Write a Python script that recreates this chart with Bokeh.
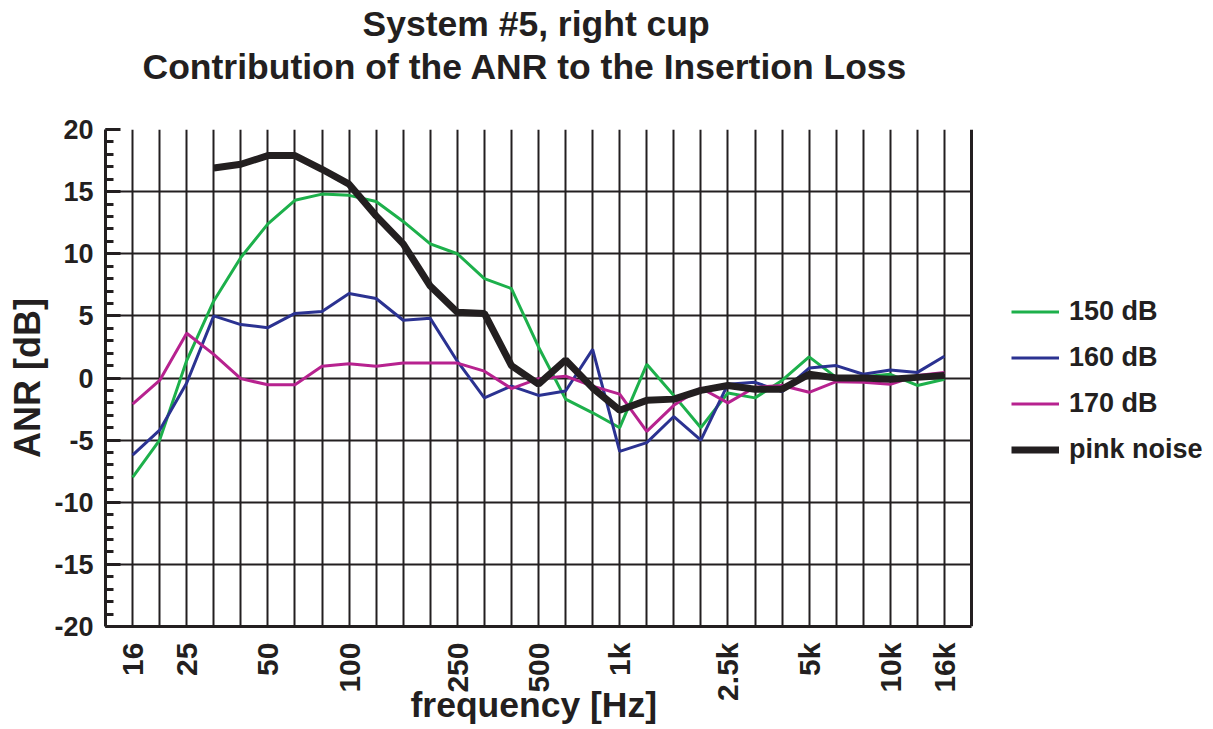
import math
from bokeh.plotting import figure
from bokeh.models import FixedTicker, Legend, LegendItem, Range1d, Grid, Title
from bokeh.embed import file_html
from bokeh.resources import INLINE

bands = ["16", "20", "25", "31.5", "40", "50", "63", "80", "100", "125", "160",
         "200", "250", "315", "400", "500", "630", "800", "1k", "1.25k", "1.6k",
         "2k", "2.5k", "3.15k", "4k", "5k", "6.3k", "8k", "10k", "12.5k", "16k"]
tick_labels = ["16", "25", "50", "100", "250", "500", "1k", "2.5k", "5k", "10k", "16k"]
y_ticks = [-20, -15, -10, -5, 0, 5, 10, 15, 20]
y_tick_labels = ["-20", "-15", "-10", "-5", "0", "5", "10", "15", "20"]

nan = float("nan")
anr_150 = [-8.0, -5.0, 1.4, 6.2, 9.7, 12.4, 14.3, 14.8, 14.7, 14.2, 12.6, 10.8, 10.0,
           8.0, 7.2, 2.5, -1.7, -2.8, -4.0, 1.1, -1.4, -4.0, -1.2, -1.6, -0.2, 1.7,
           0.05, 0.1, 0.3, -0.6, -0.1]
anr_160 = [-6.2, -4.2, -0.4, 5.0, 4.3, 4.05, 5.2, 5.35, 6.8, 6.4, 4.65, 4.8, 1.35,
           -1.6, -0.65, -1.4, -1.05, 2.3, -5.9, -5.2, -3.1, -5.0, -0.5, -0.35, -1.1,
           0.8, 1.0, 0.3, 0.65, 0.45, 1.75]
anr_170 = [-2.1, -0.2, 3.6, 1.9, -0.05, -0.55, -0.55, 0.95, 1.15, 0.95, 1.2, 1.2, 1.2,
           0.55, -0.85, -0.05, 0.15, -0.65, -1.3, -4.3, -2.2, -0.8, -2.0, -0.75, -0.6,
           -1.15, -0.3, -0.35, -0.5, 0.2, 0.45]
anr_pink = [nan, nan, nan, 16.9, 17.2, 17.9, 17.9, 16.8, 15.6, 13.05, 10.8, 7.4, 5.3,
            5.2, 1.0, -0.5, 1.45, -0.8, -2.6, -1.8, -1.7, -1.0, -0.6, -0.9, -0.9, 0.3,
            0.0, 0.0, -0.1, 0.05, 0.2]

series_names = ["150 dB", "160 dB", "170 dB", "pink noise"]
series_colors = ["#1db04b", "#2b3291", "#b7228f", "#231f20"]

FONT = "Liberation Sans"
INK = "#231f20"

x = list(range(len(bands)))
x_lo, x_hi = -1, len(bands)          # visible chart area in band units

# geometry (screen px): chart area 866 wide, legend sits right of it in the frame
AREA_W, FRAME_W, FRAME_H = 866, 1099, 497
x_end = x_lo + (x_hi - x_lo) * FRAME_W / AREA_W

p = figure(output_backend="svg", toolbar_location=None,
           x_range=Range1d(x_lo, x_end), y_range=Range1d(-20, 20),
           frame_width=FRAME_W, frame_height=FRAME_H,
           min_border_left=105, min_border_right=0, min_border_top=129,
           min_border_bottom=100)
p.background_fill_color = "white"
p.border_fill_color = "white"
p.outline_line_color = None

# grids, limited to the chart area
p.xgrid.ticker = FixedTicker(ticks=x)
p.xgrid.grid_line_color = INK
p.xgrid.grid_line_width = 2
p.xgrid.cross_bounds = (-20, 20)
p.ygrid.ticker = FixedTicker(ticks=y_ticks[1:-1])
p.ygrid.grid_line_color = INK
p.ygrid.grid_line_width = 2
p.ygrid.cross_bounds = (x_lo, x_hi)

# chart borders (top and right)
p.add_layout(Grid(dimension=0, ticker=FixedTicker(ticks=[x_hi]), cross_bounds=(-20, 20),
                  grid_line_color=INK, grid_line_width=3))
p.add_layout(Grid(dimension=1, ticker=FixedTicker(ticks=[20]), cross_bounds=(x_lo, x_hi),
                  grid_line_color=INK, grid_line_width=3))

# x axis
tick_pos = [bands.index(t) for t in tick_labels]
p.xaxis.bounds = (x_lo, x_hi)
p.xaxis.ticker = FixedTicker(ticks=tick_pos)
p.xaxis.major_label_overrides = {pos: lab for pos, lab in zip(tick_pos, tick_labels)}
p.xaxis.major_label_orientation = math.pi / 2
p.xaxis.major_tick_in = 0
p.xaxis.major_tick_out = 0
p.xaxis.minor_tick_in = 0
p.xaxis.minor_tick_out = 0
p.xaxis.major_label_standoff = 16

# y axis
p.yaxis.ticker = FixedTicker(ticks=y_ticks, minor_ticks=list(range(-20, 21)))
p.yaxis.major_label_overrides = {t: lab for t, lab in zip(y_ticks, y_tick_labels)}
p.yaxis.major_tick_in = 15
p.yaxis.major_tick_out = 0
p.yaxis.minor_tick_in = 8
p.yaxis.minor_tick_out = 0
p.yaxis.major_label_standoff = 12
p.yaxis.axis_label = "ANR [dB]"
p.yaxis.axis_label_standoff = 3

for ax in (p.xaxis, p.yaxis):
    ax.axis_line_color = INK
    ax.axis_line_width = 3
    ax.major_tick_line_color = INK
    ax.major_tick_line_width = 3
    ax.minor_tick_line_color = INK
    ax.minor_tick_line_width = 3
    ax.major_label_text_font = FONT
    ax.major_label_text_font_style = "bold"
    ax.major_label_text_color = INK
    ax.axis_label_text_font = FONT
    ax.axis_label_text_font_style = "bold"
    ax.axis_label_text_font_size = "36px"
    ax.axis_label_text_color = INK
p.xaxis.major_label_text_font_size = "30px"
p.yaxis.major_label_text_font_size = "27px"

# x-axis title, centred under the chart area
p.add_layout(Title(text="frequency [Hz]", align="left", offset=305, text_font=FONT,
                   text_font_style="bold", text_font_size="35.5px", text_color=INK,
                   standoff=-43), "below")

# data lines
renderers = []
for vals, col, w in zip([anr_150, anr_160, anr_170, anr_pink], series_colors,
                        [3, 3, 3, 7]):
    r = p.line(x, vals, line_color=col, line_width=w)
    renderers.append(r)

legend = Legend(items=[LegendItem(label=n, renderers=[r]) for n, r in zip(series_names, renderers)],
                location=(AREA_W + 40, 161), glyph_width=48, glyph_height=27, label_height=27,
                spacing=15, padding=0, margin=0, label_standoff=10,
                border_line_color=None, background_fill_alpha=0,
                label_text_font=FONT, label_text_font_style="bold",
                label_text_font_size="27px", label_text_color=INK)
p.add_layout(legend, "center")

# titles (two lines, centred over the chart area)
p.title.text = "System #5, right cup"
p.title.align = "left"
p.title.offset = 257
p.title.text_font = FONT
p.title.text_font_style = "bold"
p.title.text_font_size = "35.5px"
p.title.text_color = INK
p.title.standoff = -84
p.add_layout(Title(text="Contribution of the ANR to the Insertion Loss", align="left",
                   offset=37, text_font=FONT, text_font_style="bold",
                   text_font_size="35.5px", text_color=INK, standoff=86), "above")

open("out.html", "w").write(file_html(p, INLINE))
